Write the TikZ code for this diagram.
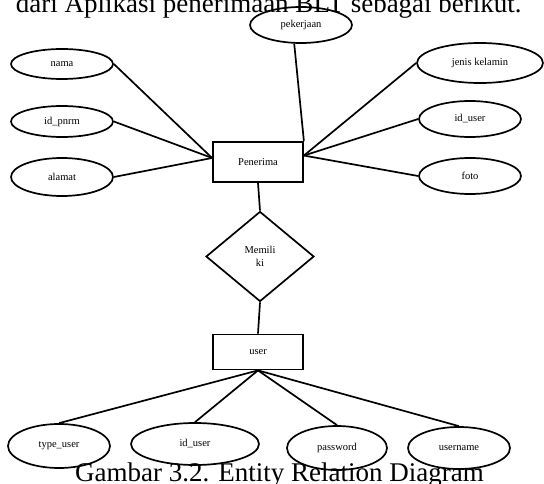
\documentclass[tikz,border=0pt]{standalone}
\usepackage{fontspec}
\setmainfont{Liberation Serif}
\usetikzlibrary{shapes.geometric}

\begin{document}
\begin{tikzpicture}[x=1pt, y=-1pt,
    atribut/.style={draw, ellipse, line width=1.7pt, inner sep=0pt,
        minimum width=102pt, minimum height=34pt, font=\fontsize{10.5}{12}\selectfont},
    entitas/.style={draw, rectangle, line width=1.8pt, inner sep=0pt,
        minimum width=90pt, minimum height=40pt, font=\fontsize{10.5}{12}\selectfont},
    relasi/.style={draw, diamond, line width=1.7pt, inner sep=0pt, align=center,
        minimum width=108pt, minimum height=90pt, font=\fontsize{10.5}{13}\selectfont},
    garis/.style={line width=1.7pt},
    teks/.style={anchor=base west, inner sep=0pt, font=\fontsize{27}{32}\selectfont}]
\useasboundingbox (0,0) rectangle (544,484);
\clip (0,0) rectangle (544,484);

% Teks halaman
\node[teks] (atas) at (15.6,13) {dari Aplikasi penerimaan BLT sebagai berikut.};
\node[teks] (judul) at (75,481.5) {Gambar 3.2. Entity Relation Diagram};

% Entitas dan relasi
\node[entitas] (pen) at (258,162) {Penerima};
\node[relasi] (milik) at (260,256.5) {Memili\\ki};
\node[entitas, minimum height=35pt] (user) at (258,352) {user};
\draw[garis] (pen.south) -- (milik.north);
\draw[garis] (milik.south) -- (user.north);

% Atribut kiri Penerima
\foreach \nm/\y/\h/\lab in {nama/64/30/nama, pnrm/121.5/31/id\_pnrm, alamat/177/38/alamat} {
    \node[atribut, minimum height=\h pt] (\nm) at (62,\y) {\lab};
    \draw[garis] (\nm.east) -- (pen.175);
}

% Atribut kanan Penerima
\node[atribut, minimum width=126pt, minimum height=40pt] (jk) at (480,63) {jenis kelamin};
\node[atribut, minimum height=36pt] (iduser) at (470,119) {id\_user};
\node[atribut, minimum height=36pt] (foto) at (470,176) {foto};
\foreach \nm in {jk,iduser,foto} {
    \draw[garis] (\nm.west) -- (pen.8);
}

% Atribut atas
\node[atribut, minimum height=36pt] (pek) at (301,25) {pekerjaan};
\draw[garis] (pek.250) -- (pen.north east);

% Atribut user
\node[atribut, minimum height=44pt] (tipe) at (59,446) {type\_user};
\node[atribut, minimum width=128pt, minimum height=42pt] (iduser2) at (195,444) {id\_user};
\node[atribut, minimum width=100pt, minimum height=44pt] (pass) at (337,448) {password};
\node[atribut, minimum height=42pt] (uname) at (459,448) {username};
\foreach \nm in {tipe,iduser2,pass,uname} {
    \draw[garis] (user.south) -- (\nm.north);
}
\end{tikzpicture}
\end{document}
